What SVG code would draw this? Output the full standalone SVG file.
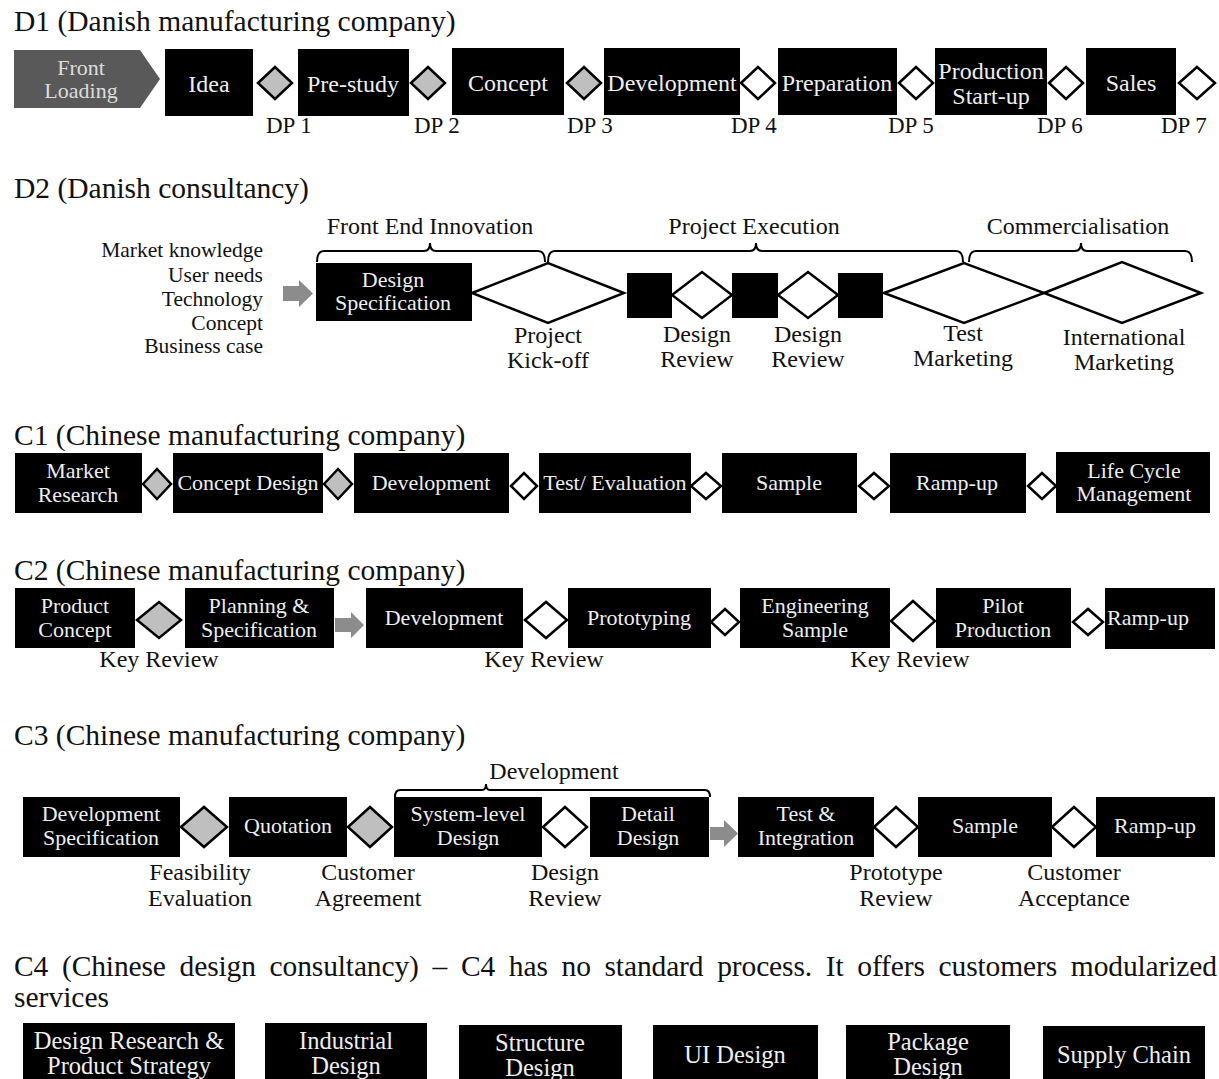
<svg xmlns="http://www.w3.org/2000/svg" width="1219" height="1079" viewBox="0 0 1219 1079">
<style>
text{font-family:"Liberation Serif","Times New Roman",serif}
.title{font-size:29.5px;fill:#111}
.box{fill:#000}
.bt{fill:#eee;text-anchor:middle;font-size:24px}
.bt2{fill:#eee;text-anchor:middle;font-size:22px}
.bt4{fill:#eee;text-anchor:middle;font-size:24.5px}
.lbl{fill:#111;text-anchor:middle;font-size:24px}
.dp{fill:#111;font-size:23px}
.dg{fill:#bfbfbf;stroke:#000;stroke-width:2.5}
.dw{fill:#fff;stroke:#000;stroke-width:2.5}
.arr{fill:#8c8c8c}
.br{fill:none;stroke:#000;stroke-width:2}
</style>
<rect width="1219" height="1079" fill="#fff"/>

<!-- D1 -->
<text class="title" x="14" y="31">D1 (Danish manufacturing company)</text>
<g id="d1-front"><polygon points="14,50 140,50 160,79 140,108 14,108" fill="#595959"/><text class="bt" x="81" y="75" style="font-size:22px;fill:#ddd">Front</text><text class="bt" x="81" y="98" style="font-size:22px;fill:#ddd">Loading</text></g>
<g id="d1-idea"><rect class="box" x="165" y="49" width="88" height="67"/><text class="bt" x="209" y="92">Idea</text></g>
<g id="d1-dp1"><polygon class="dg" points="258,83 275,67 292,83 275,99"/><text class="dp" x="266" y="133">DP 1</text></g>
<g id="d1-prestudy"><rect class="box" x="298" y="49" width="111" height="67"/><text class="bt" x="353" y="92">Pre-study</text></g>
<g id="d1-dp2"><polygon class="dg" points="411,83 428,67 445,83 428,99"/><text class="dp" x="414" y="133">DP 2</text></g>
<g id="d1-concept"><rect class="box" x="452" y="48" width="112" height="67"/><text class="bt" x="508" y="91">Concept</text></g>
<g id="d1-dp3"><polygon class="dg" points="567,83 584,67 601,83 584,99"/><text class="dp" x="567" y="133">DP 3</text></g>
<g id="d1-dev"><rect class="box" x="604" y="48" width="136" height="67"/><text class="bt" x="672" y="91">Development</text></g>
<g id="d1-dp4"><polygon class="dw" points="741,83 758,67 775,83 758,99"/><text class="dp" x="731" y="133">DP 4</text></g>
<g id="d1-prep"><rect class="box" x="778" y="48" width="119" height="67"/><text class="bt" x="837" y="91">Preparation</text></g>
<g id="d1-dp5"><polygon class="dw" points="899,83 916,67 933,83 916,99"/><text class="dp" x="888" y="133">DP 5</text></g>
<g id="d1-prod"><rect class="box" x="935" y="48" width="112" height="67"/><text class="bt" x="991" y="79">Production</text><text class="bt" x="991" y="104">Start-up</text></g>
<g id="d1-dp6"><polygon class="dw" points="1049,83 1066,67 1083,83 1066,99"/><text class="dp" x="1037" y="133">DP 6</text></g>
<g id="d1-sales"><rect class="box" x="1086" y="48" width="90" height="67"/><text class="bt" x="1131" y="91">Sales</text></g>
<g id="d1-dp7"><polygon class="dw" points="1179,83 1197,67 1215,83 1197,99"/><text class="dp" x="1161" y="133">DP 7</text></g>

<!-- D2 -->
<text class="title" x="14" y="198">D2 (Danish consultancy)</text>
<g id="d2-inputs" style="font-size:21.5px;fill:#111;text-anchor:end">
<text x="263" y="257">Market knowledge</text>
<text x="263" y="282">User needs</text>
<text x="263" y="306">Technology</text>
<text x="263" y="330">Concept</text>
<text x="263" y="353">Business case</text>
</g>
<text class="lbl" x="430" y="234">Front End Innovation</text>
<text class="lbl" x="754" y="234">Project Execution</text>
<text class="lbl" x="1078" y="234">Commercialisation</text>
<g id="d2-spec"><rect class="box" x="316" y="263" width="156" height="58"/><text class="bt" x="393" y="287" style="font-size:22px">Design</text><text class="bt" x="393" y="310" style="font-size:22px">Specification</text></g>
<g id="d2-kickoff"><polygon class="dw" points="472,293 548,263 624,293 548,323"/><text class="lbl" x="548" y="343">Project</text><text class="lbl" x="548" y="368">Kick-off</text></g>
<g id="d2-sq1"><rect class="box" x="627" y="273" width="45" height="45"/></g>
<g id="d2-dr1"><polygon class="dw" points="672,295 702,272 732,295 702,318"/><text class="lbl" x="697" y="342">Design</text><text class="lbl" x="697" y="367">Review</text></g>
<g id="d2-sq2"><rect class="box" x="732" y="273" width="46" height="45"/></g>
<g id="d2-dr2"><polygon class="dw" points="778,295 808,272 838,295 808,318"/><text class="lbl" x="808" y="342">Design</text><text class="lbl" x="808" y="367">Review</text></g>
<g id="d2-sq3"><rect class="box" x="838" y="273" width="45" height="45"/></g>
<g id="d2-test"><polygon class="dw" points="884,293 964,263 1044,293 964,323"/><text class="lbl" x="963" y="341">Test</text><text class="lbl" x="963" y="366">Marketing</text></g>
<g id="d2-intl"><polygon class="dw" points="1044,293 1122,262 1201,293 1122,323"/><text class="lbl" x="1124" y="345">International</text><text class="lbl" x="1124" y="370">Marketing</text></g>

<!-- C1 -->
<text class="title" x="14" y="445">C1 (Chinese manufacturing company)</text>
<g id="c1-market"><rect class="box" x="15" y="453" width="127" height="60"/><text class="bt2" x="78" y="478">Market</text><text class="bt2" x="78" y="502">Research</text></g>
<g id="c1-g1"><polygon class="dg" points="143,484 157,469 171,484 157,499"/></g>
<g id="c1-concept"><rect class="box" x="173" y="453" width="150" height="60"/><text class="bt2" x="248" y="490">Concept Design</text></g>
<g id="c1-g2"><polygon class="dg" points="324,484 338,469 352,484 338,499"/></g>
<g id="c1-dev"><rect class="box" x="354" y="453" width="155" height="60"/><text class="bt2" x="431" y="490">Development</text></g>
<g id="c1-g3"><polygon class="dw" points="511,486 524,473 537,486 524,499"/></g>
<g id="c1-test"><rect class="box" x="539" y="453" width="152" height="60"/><text class="bt2" x="615" y="490">Test/ Evaluation</text></g>
<g id="c1-g4"><polygon class="dw" points="691,486 706,473 721,486 706,499"/></g>
<g id="c1-sample"><rect class="box" x="722" y="453" width="135" height="60"/><text class="bt2" x="789" y="490">Sample</text></g>
<g id="c1-g5"><polygon class="dw" points="859,486 874,473 889,486 874,499"/></g>
<g id="c1-ramp"><rect class="box" x="890" y="453" width="136" height="60"/><text class="bt2" x="957" y="490">Ramp-up</text></g>
<g id="c1-g6"><polygon class="dw" points="1028,486 1042,473 1056,486 1042,499"/></g>
<g id="c1-lcm"><rect class="box" x="1056" y="452" width="154" height="61"/><text class="bt2" x="1134" y="478">Life Cycle</text><text class="bt2" x="1134" y="501">Management</text></g>

<!-- C2 -->
<text class="title" x="14" y="580">C2 (Chinese manufacturing company)</text>
<g id="c2-pc"><rect class="box" x="15" y="588" width="120" height="60"/><text class="bt2" x="75" y="613">Product</text><text class="bt2" x="75" y="637">Concept</text></g>
<g id="c2-g1"><polygon class="dg" points="137,620 159,602 181,620 159,638"/><text class="lbl" x="159" y="667">Key Review</text></g>
<g id="c2-plan"><rect class="box" x="185" y="588" width="149" height="60"/><text class="bt2" x="259" y="613">Planning &amp;</text><text class="bt2" x="259" y="637">Specification</text></g>
<g id="c2-dev"><rect class="box" x="366" y="588" width="157" height="60"/><text class="bt2" x="444" y="625">Development</text></g>
<g id="c2-g2"><polygon class="dw" points="525,620 546,602 567,620 546,638"/><text class="lbl" x="544" y="667">Key Review</text></g>
<g id="c2-proto"><rect class="box" x="568" y="588" width="143" height="60"/><text class="bt2" x="639" y="625">Prototyping</text></g>
<g id="c2-g3"><polygon class="dw" points="711,622 725,609 739,622 725,635"/></g>
<g id="c2-eng"><rect class="box" x="740" y="588" width="150" height="60"/><text class="bt2" x="815" y="613">Engineering</text><text class="bt2" x="815" y="637">Sample</text></g>
<g id="c2-g4"><polygon class="dw" points="891,621 913,601 935,621 913,641"/><text class="lbl" x="910" y="667">Key Review</text></g>
<g id="c2-pilot"><rect class="box" x="936" y="588" width="135" height="60"/><text class="bt2" x="1003" y="613">Pilot</text><text class="bt2" x="1003" y="637">Production</text></g>
<g id="c2-g5"><polygon class="dw" points="1073,622 1088,609 1103,622 1088,635"/></g>
<g id="c2-ramp"><rect class="box" x="1105" y="588" width="110" height="61"/><text class="bt2" x="1107" y="625" style="text-anchor:start">Ramp-up</text></g>

<!-- C3 -->
<text class="title" x="14" y="745">C3 (Chinese manufacturing company)</text>
<text class="lbl" x="554" y="779">Development</text>
<g id="c3-devspec"><rect class="box" x="23" y="797" width="157" height="60"/><text class="bt2" x="101" y="821">Development</text><text class="bt2" x="101" y="845">Specification</text></g>
<g id="c3-g1"><polygon class="dg" points="181,827 204,807 227,827 204,847"/><text class="lbl" x="200" y="880">Feasibility</text><text class="lbl" x="200" y="906">Evaluation</text></g>
<g id="c3-quot"><rect class="box" x="229" y="797" width="118" height="60"/><text class="bt2" x="288" y="833">Quotation</text></g>
<g id="c3-g2"><polygon class="dg" points="348,827 370,807 392,827 370,847"/><text class="lbl" x="368" y="880">Customer</text><text class="lbl" x="368" y="906">Agreement</text></g>
<g id="c3-sys"><rect class="box" x="394" y="797" width="148" height="60"/><text class="bt2" x="468" y="821">System-level</text><text class="bt2" x="468" y="845">Design</text></g>
<g id="c3-g3"><polygon class="dw" points="543,827 565,807 587,827 565,847"/><text class="lbl" x="565" y="880">Design</text><text class="lbl" x="565" y="906">Review</text></g>
<g id="c3-detail"><rect class="box" x="590" y="797" width="119" height="60"/><text class="bt2" x="648" y="821">Detail</text><text class="bt2" x="648" y="845">Design</text></g>
<g id="c3-test"><rect class="box" x="738" y="797" width="136" height="60"/><text class="bt2" x="806" y="821">Test &amp;</text><text class="bt2" x="806" y="845">Integration</text></g>
<g id="c3-g4"><polygon class="dw" points="874,827 896,807 918,827 896,847"/><text class="lbl" x="896" y="880">Prototype</text><text class="lbl" x="896" y="906">Review</text></g>
<g id="c3-sample"><rect class="box" x="918" y="797" width="134" height="60"/><text class="bt2" x="985" y="833">Sample</text></g>
<g id="c3-g5"><polygon class="dw" points="1052,827 1074,807 1096,827 1074,847"/><text class="lbl" x="1074" y="880">Customer</text><text class="lbl" x="1074" y="906">Acceptance</text></g>
<g id="c3-ramp"><rect class="box" x="1096" y="797" width="119" height="60"/><text class="bt2" x="1155" y="833">Ramp-up</text></g>

<!-- C4 -->
<text class="title" x="14" y="976" word-spacing="6.5" textLength="1203" lengthAdjust="spacing">C4 (Chinese design consultancy) – C4 has no standard process. It offers customers modularized</text>
<text class="title" x="14" y="1007">services</text>
<g id="c4-research"><rect class="box" x="23" y="1023" width="212" height="70"/><text class="bt4" x="129" y="1049">Design Research &amp;</text><text class="bt4" x="129" y="1074">Product Strategy</text></g>
<g id="c4-industrial"><rect class="box" x="265" y="1023" width="162" height="70"/><text class="bt4" x="346" y="1049">Industrial</text><text class="bt4" x="346" y="1074">Design</text></g>
<g id="c4-structure"><rect class="box" x="459" y="1025" width="163" height="70"/><text class="bt4" x="540" y="1051">Structure</text><text class="bt4" x="540" y="1076">Design</text></g>
<g id="c4-ui"><rect class="box" x="653" y="1025" width="165" height="70"/><text class="bt4" x="735" y="1063">UI Design</text></g>
<g id="c4-package"><rect class="box" x="846" y="1025" width="164" height="70"/><text class="bt4" x="928" y="1050">Package</text><text class="bt4" x="928" y="1075">Design</text></g>
<g id="c4-supply"><rect class="box" x="1043" y="1026" width="162" height="70"/><text class="bt4" x="1124" y="1063">Supply Chain</text></g>

<!-- connectors: arrows and brackets -->
<g id="connectors">
<polygon class="arr" points="283,286 299,286 299,280 313,293.5 299,307 299,301 283,301"/>
<polygon class="arr" points="335,618 351,618 351,612 364,625 351,638 351,632 335,632"/>
<polygon class="arr" points="710,827 724,827 724,820 738,833.5 724,847 724,840 710,840"/>
<path class="br" d="M317,262 Q317,251 324,251 L424,251 Q430,251 430,243 Q430,251 436,251 L538,251 Q545,251 545,262"/>
<path class="br" d="M548,262 Q548,251 555,251 L750,251 Q756,251 756,243 Q756,251 762,251 L956,251 Q963,251 963,262"/>
<path class="br" d="M969,262 Q969,251 976,251 L1075,251 Q1081,251 1081,243 Q1081,251 1087,251 L1185,251 Q1192,251 1192,262"/>
<path class="br" d="M395,797 Q395,790 400,790 L482,790 Q486,790 486,784 Q486,790 490,790 L705,790 Q710,790 710,797"/>
</g>
</svg>
